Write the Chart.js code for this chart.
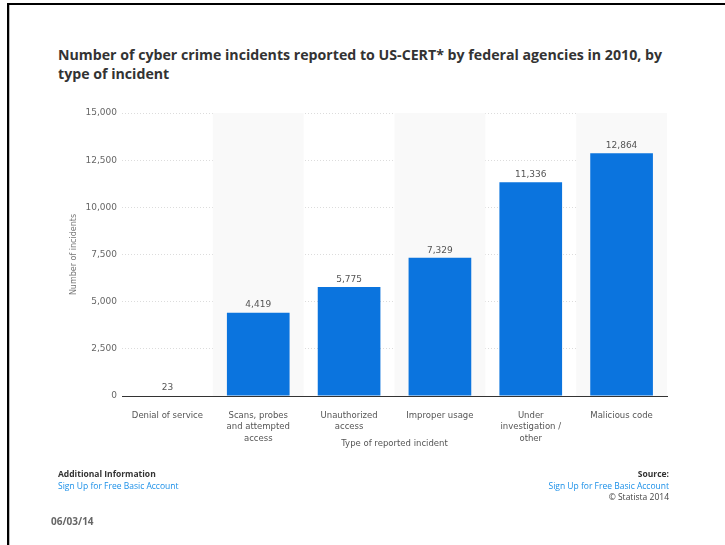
<!DOCTYPE html>
<html>
<head>
<meta charset="utf-8">
<script src="https://cdn.jsdelivr.net/npm/chart.js@4/dist/chart.umd.min.js"></script>
<style>
  html, body { margin:0; padding:0; background:#fff; }
  #wrap { position:relative; width:725px; height:545px; overflow:hidden; background:#fff; }
  #frame { position:absolute; left:7px; top:3px; width:800px; height:600px; border-top:2px solid #000; border-left:2px solid #000; }
  #frame2 { position:absolute; left:9px; top:5px; width:1px; height:600px; background:#bbb; }
  #title { position:absolute; left:58px; top:45px; font-family:"Open Sans", sans-serif; font-weight:bold; font-size:15px; line-height:19px; color:#333; white-space:nowrap; transform-origin:0 0; }
  #chartBox { position:absolute; left:0; top:0; width:725px; height:545px; }
  .ft { position:absolute; font-family:"Open Sans", sans-serif; font-size:8.5px; line-height:11.5px; white-space:nowrap; }
  .b { font-weight:bold; color:#333; }
  .lnk { color:#1a8fe8; }
  .g { color:#444; }
  #date { position:absolute; left:51px; top:514px; font-family:"Open Sans", sans-serif; font-weight:bold; font-size:10px; color:#666; }
</style>
</head>
<body>
<div id="wrap">
  <div id="frame"></div>
  <div id="frame2"></div>
  <div id="title"><span id="t1">Number of cyber crime incidents reported to US-CERT* by federal agencies in 2010, by</span><br>type of incident</div>
  <div id="chartBox"><canvas id="c" width="725" height="545"></canvas></div>
  <div class="ft b" style="left:58px; top:468px;">Additional Information</div>
  <div class="ft lnk" style="left:58px; top:480px;">Sign Up for Free Basic Account</div>
  <div class="ft b" style="right:56px; top:468px; text-align:right;">Source:</div>
  <div class="ft lnk" style="right:56px; top:480px; text-align:right;">Sign Up for Free Basic Account</div>
  <div class="ft g" style="right:56px; top:491px; text-align:right;">© Statista 2014</div>
  <div id="date">06/03/14</div>
</div>
<script>
const categories = [
  "Denial of service",
  ["Scans, probes", "and attempted", "access"],
  ["Unauthorized", "access"],
  "Improper usage",
  ["Under", "investigation /", "other"],
  "Malicious code"
];
const incidents = [23, 4419, 5775, 7329, 11336, 12864];
const yTicks = [0, 2500, 5000, 7500, 10000, 12500, 15000];

// fit title line 1 to reference width
(function(){
  const t = document.getElementById('title');
  const w = document.getElementById('t1').getBoundingClientRect().width;
  const s = 604 / w;
  t.style.transform = 'scaleX(' + s + ')';
})();

const bandPlugin = {
  id: 'bands',
  beforeDatasetsDraw(chart) {
    const {ctx, chartArea, scales: {x}} = chart;
    const step = x.getPixelForTick(1) - x.getPixelForTick(0);
    ctx.save();
    ctx.fillStyle = '#f9f9f9';
    for (let i = 1; i < categories.length; i += 2) {
      const cx = x.getPixelForTick(i);
      ctx.fillRect(cx - step/2, chartArea.top, step, chartArea.bottom - chartArea.top);
    }
    ctx.restore();
  }
};

const labelPlugin = {
  id: 'vals',
  afterDatasetsDraw(chart) {
    const {ctx} = chart;
    const meta = chart.getDatasetMeta(0);
    ctx.save();
    ctx.font = '9px "DejaVu Sans", sans-serif';
    ctx.fillStyle = '#555';
    ctx.textAlign = 'center';
    ctx.textBaseline = 'bottom';
    meta.data.forEach((el, i) => {
      ctx.fillText(incidents[i].toLocaleString('en-US'), el.x, el.y - 3);
    });
    ctx.restore();
  }
};

new Chart(document.getElementById('c'), {
  type: 'bar',
  data: {
    labels: categories,
    datasets: [{
      data: incidents,
      backgroundColor: '#0b74de',
      borderWidth: 0,
      barPercentage: 0.69,
      categoryPercentage: 1
    }]
  },
  options: {
    responsive: false,
    animation: false,
    devicePixelRatio: 1,
    layout: { padding: { top: 113, left: 69, right: 58, bottom: 96 } },
    plugins: { legend: { display: false }, tooltip: { enabled: false } },
    scales: {
      x: {
        grid: { display: false, drawTicks: false },
        border: { display: true, color: '#333', width: 1 },
        ticks: { color: '#555', font: { family: '"DejaVu Sans", sans-serif', size: 8.5, lineHeight: 1.35 }, padding: 14, maxRotation: 0, autoSkip: false },
        title: { display: true, text: 'Type of reported incident', color: '#555', font: { family: '"DejaVu Sans", sans-serif', size: 8.5 }, padding: 0 },
        afterFit(s) { s.height = 53; }
      },
      y: {
        min: 0, max: 15000,
        afterBuildTicks(s) { s.ticks = yTicks.map(v => ({ value: v })); },
        grid: { color: '#dcdcdc', lineWidth: 1, drawTicks: false },
        border: { display: false, dash: [1, 2] },
        ticks: { color: '#666', font: { family: '"DejaVu Sans", sans-serif', size: 9 }, padding: 5, callback: v => v.toLocaleString('en-US') },
        title: { display: true, text: 'Number of incidents', color: '#777', font: { family: '"DejaVu Sans", sans-serif', size: 8 }, padding: 0 },
        afterFit(s) { s.width = 53; }
      }
    }
  },
  plugins: [bandPlugin, labelPlugin]
});
</script>
</body>
</html>
